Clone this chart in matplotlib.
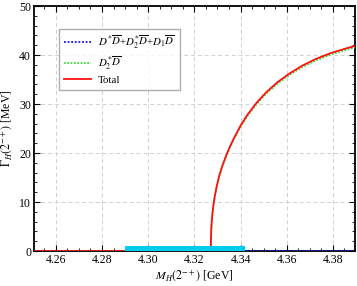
import matplotlib
matplotlib.use("Agg")
import matplotlib.pyplot as plt
from matplotlib.ticker import MultipleLocator

plt.rcParams['font.family'] = ['Liberation Serif', 'DejaVu Serif']
plt.rcParams['mathtext.fontset'] = 'stix'

# Total width (red)
m_total = [4.25, 4.3271, 4.32715, 4.3273, 4.3276, 4.3281, 4.3288, 4.3297, 4.3308,
           4.3321, 4.3336, 4.3351, 4.3371, 4.3400, 4.3431, 4.3470, 4.3511, 4.3561,
           4.3611, 4.3666, 4.3726, 4.3791, 4.3861, 4.3900]
g_total = [0, 0, 2.2, 4.4, 6.6, 8.9, 11.1, 13.3, 15.4,
           17.4, 19.3, 21.0, 23.0, 25.6, 27.9, 30.3, 32.4, 34.5,
           36.2, 37.8, 39.2, 40.4, 41.4, 41.9]
# D2* Dbar (green)
g_d2 = [0, 0, 2.2, 4.3, 6.5, 8.8, 11.0, 13.2, 15.3,
        17.2, 19.1, 20.8, 22.8, 25.4, 27.6, 30.0, 32.1, 34.2,
        35.9, 37.5, 38.9, 40.1, 41.1, 41.6]
# D* Dbar + D2* Dbar + D1 Dbar (blue)
m_blue = [4.25, 4.39]
g_blue = [0.0, 0.0]
# experimental band
band_x = [4.29, 4.342]
band_h = 1.1

fig = plt.figure(figsize=(3.57, 2.86), dpi=100)
ax = fig.add_axes([0.095, 0.122, 0.899, 0.857])

ax.plot(m_blue, g_blue, color='#1010ff', ls=(0, (1, 1)), lw=1.3, zorder=3,
        label=r'$D^{*}\overline{D}$+$D_2^{*}\overline{D}$+$D_1\overline{D}$')
ax.plot(m_total, g_d2, color='#22dd22', ls=(0, (1, 1)), lw=1.2, zorder=3,
        label=r'$D_2^{*}\overline{D}$')
ax.plot(m_total, g_total, color='#ff1010', lw=1.3, zorder=4, label='Total')
ax.fill_between(band_x, [0, 0], [band_h, band_h], color='#00ccee', lw=0, zorder=5)

ax.set_xlim(4.2505, 4.3895)
ax.set_ylim(0, 50)
ax.xaxis.set_minor_locator(MultipleLocator(0.005))
ax.yaxis.set_minor_locator(MultipleLocator(2))
ax.tick_params(which='both', direction='in', top=True, right=True,
               labelsize=8.5, pad=2)
ax.tick_params(which='major', length=4, width=0.8)
ax.tick_params(which='minor', length=2, width=0.6)
ax.set_xticks([4.26, 4.28, 4.30, 4.32, 4.34, 4.36, 4.38])
ax.set_xticklabels(['4.26', '4.28', '4.30', '4.32', '4.34', '4.36', '4.38'])
ax.set_yticks([0, 10, 20, 30, 40, 50])
ax.set_yticklabels(['0', '10', '20', '30', '40', '50'])
ax.grid(True, which='major', color='#d0d0d0', ls=(0, (4, 3)), lw=0.7)
for s in ax.spines.values():
    s.set_linewidth(1.3)

ax.set_xlabel(r'$M_H(2^{-+})$ [GeV]', fontsize=8.5, labelpad=2)
ax.set_ylabel(r'$\Gamma_H(2^{-+})$ [MeV]', fontsize=8.5, labelpad=3)

leg = ax.legend(loc='upper left', bbox_to_anchor=(0.06, 0.93), fontsize=7.8,
                frameon=True, fancybox=False, edgecolor='#999999',
                handlelength=2.5, borderpad=0.5, labelspacing=0.3,
                handletextpad=0.6)
leg.get_frame().set_linewidth(1.0)

fig.savefig('out.png', dpi=100)
